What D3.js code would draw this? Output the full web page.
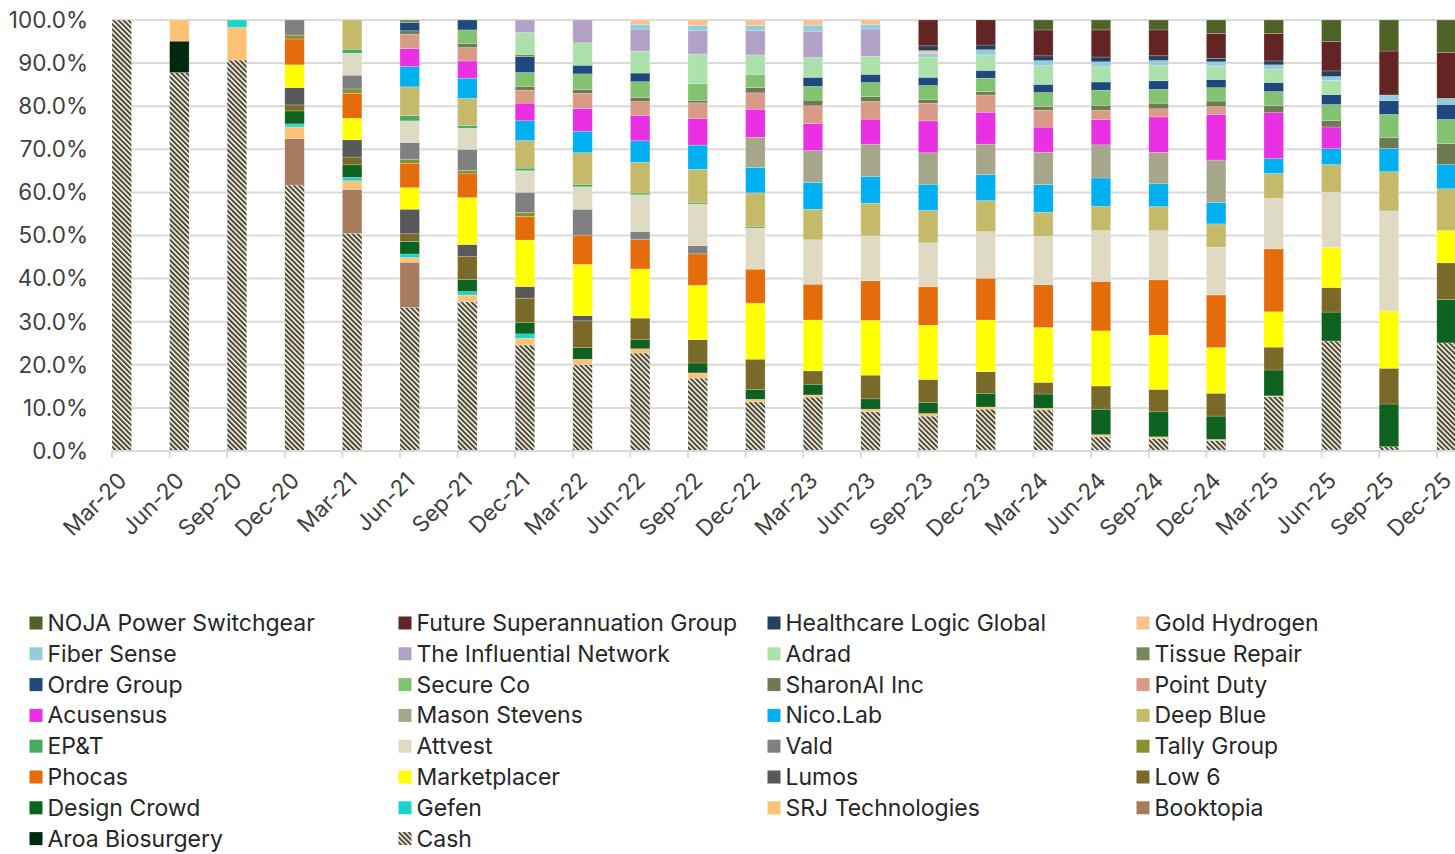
<!DOCTYPE html>
<html><head><meta charset="utf-8">
<script src="https://cdn.jsdelivr.net/npm/d3@7"></script>
<style>
body{margin:0;background:#fff;}
svg{display:block;font-family:Inter,"Noto Sans",sans-serif;}
</style></head><body>
<svg id="c" width="1455" height="854"></svg>
<script>
const quarters = ["Mar-20","Jun-20","Sep-20","Dec-20","Mar-21","Jun-21","Sep-21","Dec-21","Mar-22","Jun-22","Sep-22","Dec-22","Mar-23","Jun-23","Sep-23","Dec-23","Mar-24","Jun-24","Sep-24","Dec-24","Mar-25","Jun-25","Sep-25","Dec-25"];
const yTicks = [0,0.1,0.2,0.3,0.4,0.5,0.6,0.7,0.8,0.9,1.0];

const cash        = [100,87.8,90.7,61.7,50.5,33.3,34.6,24.6,20.1,22.7,16.9,11.4,12.5,9.1,8.1,9.7,9.5,3.3,2.9,2.4,12.6,25.5,1.0,25.1];
const aroa        = [0,7.3,0,0,0,0,0,0,0,0,0,0,0,0,0,0,0,0,0,0,0,0,0,0];
const booktopia   = [0,0,0,10.8,10.2,10.5,0,0,0,0,0,0,0,0,0,0,0,0,0,0,0,0,0,0];
const srj         = [0,4.9,7.6,2.7,2.0,1.1,1.6,1.6,1.2,1.0,1.2,0.6,0.5,0.6,0.6,0.5,0.4,0.5,0.4,0.3,0.2,0,0,0];
const gefen       = [0,0,1.7,0.7,0.8,0.8,0.8,1.0,0,0,0,0,0,0,0,0,0,0,0,0,0,0,0,0];
const designCrowd = [0,0,0,3.0,2.9,2.9,2.8,2.7,2.7,2.1,2.3,2.3,2.5,2.4,2.5,3.2,3.3,5.9,5.8,5.4,6.0,6.7,9.9,10.1];
const low6        = [0,0,0,1.4,1.8,1.8,5.4,5.6,6.2,5.0,5.4,7.0,3.1,5.5,5.4,5.0,2.7,5.4,5.2,5.3,5.3,5.7,8.3,8.5];
const lumos       = [0,0,0,4.0,4.0,5.7,2.7,2.7,1.2,0,0,0,0,0,0,0,0,0,0,0,0,0,0,0];
const marketplacer= [0,0,0,5.3,5.0,5.0,10.9,10.8,11.9,11.4,12.6,13.0,11.8,12.7,12.6,12.0,12.7,12.8,12.6,10.6,8.2,9.3,13.3,7.5];
const phocas      = [0,0,0,6.0,5.8,5.6,5.5,5.5,6.8,6.8,7.3,7.9,8.3,9.2,8.9,9.7,9.9,11.5,12.8,12.2,14.6,0,0,0];
const tally       = [0,0,0,0.9,1.0,1.0,0.8,0.9,0,0,0,0,0,0,0,0,0,0,0,0,0,0,0,0];
const vald        = [0,0,0,3.5,3.2,3.9,4.9,4.7,6.0,1.9,1.9,0,0,0,0,0,0,0,0,0,0,0,0,0];
const attvest     = [0,0,0,0,5.1,5.0,4.9,5.0,5.2,8.5,9.6,9.5,10.3,10.4,10.2,10.8,11.2,11.8,11.4,11.1,11.7,12.8,23.2,0];
const ept         = [0,0,0,0,0.9,1.2,0.6,0.6,0.6,0.4,0.3,0.3,0,0,0,0,0,0,0,0,0,0,0,0];
const deepBlue    = [0,0,0,0,6.8,6.7,6.3,6.4,7.3,7.1,7.8,7.9,7.1,7.6,7.5,7.2,5.6,5.6,5.6,5.4,5.8,6.4,9.1,9.7];
const nicoLab     = [0,0,0,0,0,4.7,4.7,4.6,5.0,5.0,5.6,5.9,6.2,6.2,6.1,6.0,6.4,6.6,5.3,5.0,3.5,3.7,5.4,5.6];
const mason       = [0,0,0,0,0,0,0,0,0,0,0,7.0,7.4,7.5,7.3,7.1,7.5,7.7,7.3,9.8,0,0,0,0];
const acusensus   = [0,0,0,0,0,4.2,4.0,4.1,5.3,5.8,6.2,6.5,6.3,5.8,7.4,7.4,5.8,5.9,8.2,10.6,10.6,5.0,0,0];
const pointDuty   = [0,0,0,0,0,3.3,3.1,3.0,3.5,3.3,3.6,3.8,4.1,4.1,4.1,4.0,3.9,2.1,1.9,1.8,0,0,0,0];
const sharonAI    = [0,0,0,0,0,0.8,0.9,0.9,0.9,0.9,0.6,1.2,1.3,1.1,0.9,0.8,0.9,1.2,1.3,1.3,1.6,1.5,2.5,4.9];
const secureCo    = [0,0,0,0,0,0,3.2,3.2,3.6,3.7,3.9,3.1,3.2,3.3,3.2,3.1,3.2,3.5,3.2,3.1,3.3,3.7,5.4,5.6];
const ordre       = [0,0,0,0,0,1.9,2.3,3.7,2.0,2.0,0,0,2.1,1.9,1.9,1.8,1.9,1.9,2.0,1.9,2.1,2.3,3.2,3.5];
const tissue      = [0,0,0,0,0,0.6,0,0.5,0,0,0,0,0,0,0,0,0,0,0,0,0,0,0,0];
const adrad       = [0,0,0,0,0,0,0,5.1,5.2,5.1,6.8,4.5,4.6,4.2,4.6,3.6,4.3,3.5,3.5,3.1,3.1,3.3,0,0];
const influential = [0,0,0,0,0,0,0,2.9,5.3,5.1,5.4,5.6,6.1,6.3,0,0,0,0,0,0,0,0,0,0];
const fiber       = [0,0,0,0,0,0,0,0,0,1.1,1.2,1.2,1.4,1.1,1.0,1.2,1.2,1.2,1.2,1.0,1.0,0.9,1.3,1.4];
const gold        = [0,0,0,0,0,0,0,0,0,1.0,1.3,1.3,1.2,1.0,0.6,0,0,0,0,0,0,0,0,0];
const healthcare  = [0,0,0,0,0,0,0,0,0,0,0,0,0,0,1.1,1.1,1.1,1.1,1.1,0.8,0.9,1.3,0,0];
const future      = [0,0,0,0,0,0,0,0,0,0,0,0,0,0,6.0,5.8,6.0,6.3,6.0,5.8,6.4,6.8,10.2,10.7];
const noja        = [0,0,0,0,0,0,0,0,0,0,0,0,0,0,0,0,2.3,2.3,2.3,3.1,3.1,5.0,7.2,7.5];

// bottom-to-top stacking order
const seriesList = [
 ["Cash",cash,"url(#hatch)"],
 ["Aroa Biosurgery",aroa,"#00290e"],
 ["Booktopia",booktopia,"#a67b5e"],
 ["SRJ Technologies",srj,"#ffc175"],
 ["Gefen",gefen,"#17d5ce"],
 ["Design Crowd",designCrowd,"#0e6220"],
 ["Low 6",low6,"#7a6a2a"],
 ["Lumos",lumos,"#595959"],
 ["Marketplacer",marketplacer,"#ffff00"],
 ["Phocas",phocas,"#e46c0a"],
 ["Tally Group",tally,"#87912f"],
 ["Vald",vald,"#808080"],
 ["Attvest",attvest,"#dfdac4"],
 ["EP&T",ept,"#46ab60"],
 ["Deep Blue",deepBlue,"#c4ba6a"],
 ["Nico.Lab",nicoLab,"#00b0f0"],
 ["Mason Stevens",mason,"#a6a68a"],
 ["Acusensus",acusensus,"#e930e3"],
 ["Point Duty",pointDuty,"#d99a86"],
 ["SharonAI Inc",sharonAI,"#6e7b52"],
 ["Secure Co",secureCo,"#82c270"],
 ["Ordre Group",ordre,"#1f497d"],
 ["Tissue Repair",tissue,"#77895b"],
 ["Adrad",adrad,"#ade1ac"],
 ["The Influential Network",influential,"#b3a2c7"],
 ["Fiber Sense",fiber,"#93cddd"],
 ["Gold Hydrogen",gold,"#fac090"],
 ["Healthcare Logic Global",healthcare,"#243f60"],
 ["Future Superannuation Group",future,"#632523"],
 ["NOJA Power Switchgear",noja,"#4f6228"]
];

const keys = seriesList.map(s=>s[0]);
const color = Object.fromEntries(seriesList.map(s=>[s[0],s[2]]));
const table = quarters.map((q,i)=>{const r={q}; seriesList.forEach(s=>r[s[0]]=s[1][i]); return r;});

const svg = d3.select("#c");
const defs = svg.append("defs");
const pat = defs.append("pattern").attr("id","hatch").attr("patternUnits","userSpaceOnUse")
  .attr("width",3.6).attr("height",3.6).attr("patternTransform","rotate(-45)");
pat.append("rect").attr("width",3.6).attr("height",3.6).attr("fill","#fff");
pat.append("rect").attr("width",2.1).attr("height",3.6).attr("fill","#4f482c");

const x0 = 112, step = 57.6;
const x = d3.scaleBand().domain(quarters).range([x0, x0+step*quarters.length]).padding(0);
const y = d3.scaleLinear().domain([0,1]).range([451,20]);
const barW = 19.5;

// gridlines
svg.append("g").selectAll("line").data(yTicks.slice(1)).join("line")
  .attr("x1",x0).attr("x2",1455).attr("y1",d=>y(d)).attr("y2",d=>y(d))
  .attr("stroke","#d9d9d9").attr("stroke-width",2);

// y labels
svg.append("g").selectAll("text").data(yTicks).join("text")
  .attr("x",88).attr("y",d=>y(d)).attr("dy","0.35em").attr("text-anchor","end")
  .attr("font-size",22.5).attr("fill","#404040").text(d3.format(".1%"));

const stack = d3.stack().keys(keys).offset(d3.stackOffsetExpand);
const layers = stack(table);

svg.append("g").selectAll("g").data(layers).join("g")
  .attr("fill",d=>color[d.key])
  .selectAll("rect").data(d=>d).join("rect")
  .attr("x",d=>x(d.data.q)).attr("width",barW)
  .attr("y",d=>y(d[1])).attr("height",d=>Math.max(0,y(d[0])-y(d[1])))
  .attr("stroke","#ffffff").attr("stroke-opacity",0.35).attr("stroke-width",0.6);

// x axis
const ax = svg.append("g");
ax.append("line").attr("x1",x0).attr("x2",1455).attr("y1",451).attr("y2",451)
  .attr("stroke","#d9d9d9").attr("stroke-width",2);
ax.selectAll("line.t").data(quarters).join("line").attr("class","t")
  .attr("x1",d=>x(d)).attr("x2",d=>x(d)).attr("y1",451).attr("y2",458)
  .attr("stroke","#d9d9d9").attr("stroke-width",2);
ax.selectAll("text").data(quarters).join("text")
  .attr("transform",d=>`translate(${x(d)+16},${482}) rotate(-45)`)
  .attr("text-anchor","end").attr("font-size",22.5).attr("fill","#404040").text(d=>d);

// legend
const legendItems = keys.slice().reverse();
const colX = [29.5,398.5,767.5,1136.5];
const lg = svg.append("g").selectAll("g").data(legendItems).join("g")
  .attr("transform",(d,i)=>`translate(${colX[i%4]},${623+Math.floor(i/4)*30.8})`);
lg.append("rect").attr("x",0).attr("y",-6.5).attr("width",13).attr("height",13).attr("fill",d=>color[d]);
lg.append("text").attr("x",18).attr("dy","0.35em").attr("font-size",23).attr("fill","#262626").text(d=>d);
</script>
</body></html>
